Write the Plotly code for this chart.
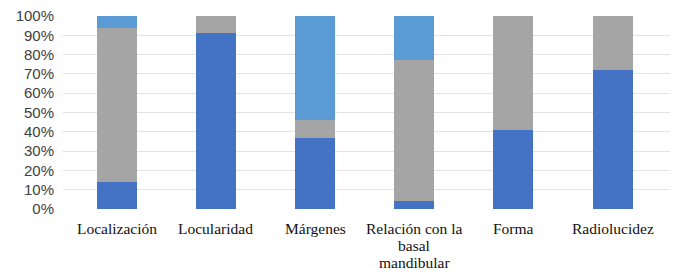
import plotly.graph_objects as go

categories = ["Localización", "Locularidad", "Márgenes",
              "Relación con la<br>basal<br>mandibular", "Forma", "Radiolucidez"]
serie_azul = [14, 91, 37, 4, 41, 72]
serie_gris = [80, 9, 9, 73, 59, 28]
serie_celeste = [6, 0, 54, 23, 0, 0]
y_ticks = [0, 10, 20, 30, 40, 50, 60, 70, 80, 90, 100]
y_tick_labels = [f"{v}%" for v in y_ticks]

x_idx = list(range(len(categories)))

fig = go.Figure()
for vals, col in [(serie_azul, "#4472C4"), (serie_gris, "#A5A5A5"), (serie_celeste, "#5B9BD5")]:
    fig.add_trace(go.Bar(x=x_idx, y=vals, marker=dict(color=col, line=dict(width=0)),
                         width=0.403, showlegend=False))

serif = "Liberation Serif, Times New Roman, serif"
for i, cat in enumerate(categories):
    for j, line in enumerate(cat.split("<br>")):
        fig.add_annotation(x=i, xref="x", y=0, yref="paper", yanchor="top",
                           yshift=-(9 + 17 * j), text=line, showarrow=False,
                           font=dict(family=serif, size=15.5, color="#111111"))

fig.update_layout(
    barmode="stack",
    width=674, height=273,
    margin=dict(l=63, r=4, t=16, b=64),
    paper_bgcolor="white", plot_bgcolor="white",
    xaxis=dict(tickvals=x_idx, showticklabels=False,
               range=[-0.541, 5.578], showgrid=False, zeroline=False, showline=False,
               ticks=""),
    yaxis=dict(range=[0, 100], tickvals=y_ticks, ticktext=y_tick_labels,
               showgrid=True, gridcolor="#E3E3E3", gridwidth=1, zeroline=False,
               showline=False, ticks="", ticklabelstandoff=8,
               tickfont=dict(family="Liberation Sans, Arial, sans-serif", size=15, color="#404040")),
)

fig.write_html("out.html", config={"displayModeBar": False},
               post_script="document.body.style.margin='0';")
